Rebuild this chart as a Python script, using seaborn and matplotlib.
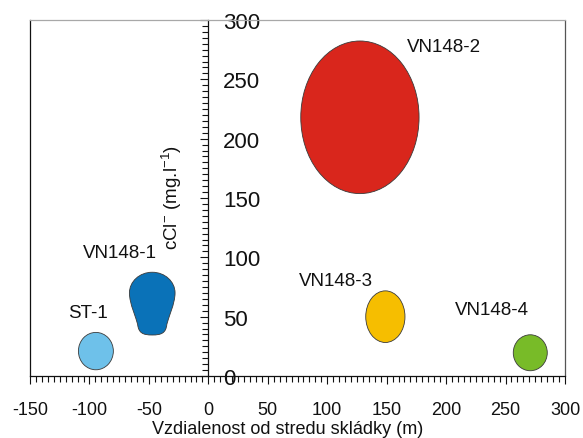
import matplotlib
matplotlib.use("Agg")
import matplotlib.pyplot as plt
from matplotlib.patches import Ellipse, PathPatch
from matplotlib.path import Path
from matplotlib.lines import Line2D
from matplotlib.ticker import MultipleLocator
import pandas as pd
import seaborn as sns

# Monitoring wells: distance from the landfill centre (m) and chloride content (mg/l)
wells = ["ST-1", "VN148-1", "VN148-2", "VN148-3", "VN148-4"]
distance = [-94.6, -47.2, 127.5, 148.9, 270.8]
chloride = [21.0, 61.0, 218.0, 50.0, 19.6]
# extent of each bubble along distance and concentration
spread_x = [29.4, 38.4, 99.5, 33.0, 28.6]
spread_y = [31.5, 52.9, 128.6, 43.5, 30.3]
shapes = ["ellipse", "drop", "ellipse", "ellipse", "ellipse"]
colors = ["#6ec1ea", "#0a72b8", "#d9261c", "#f6be00", "#78bb28"]

x_ticks = [-150, -100, -50, 0, 50, 100, 150, 200, 250, 300]
y_ticks = [0, 50, 100, 150, 200, 250, 300]

df = pd.DataFrame({"well": wells, "x": distance, "y": chloride,
                   "w": spread_x, "h": spread_y, "shape": shapes})
palette = sns.color_palette(colors)

sns.set_theme(style="ticks")
plt.rcParams["font.family"] = ["Liberation Sans", "DejaVu Sans"]
plt.rcParams["mathtext.fontset"] = "custom"
plt.rcParams["mathtext.rm"] = "Liberation Sans"
plt.rcParams["mathtext.it"] = "Liberation Sans:italic"
plt.rcParams["mathtext.bf"] = "Liberation Sans:bold"

fig = plt.figure(figsize=(5.83, 4.39), dpi=100)
ax = fig.add_axes([0.0515, 0.1412, 0.9176, 0.8110])
ax.set_facecolor("white")
ax.set_xlim(-150, 300)
ax.set_ylim(0, 300)


def drop_path(cx, cy, w, h):
    """Bulb-shaped outline: wide round top tapering to a narrow rounded base."""
    hw = w / 2
    top = cy + h / 2
    bot = cy - h / 2
    ry = top - 0.33 * h          # widest level
    ny = bot + 0.17 * h          # neck level
    verts = [
        (cx, top),
        (cx + 0.56 * hw, top), (cx + hw, top - 0.15 * h), (cx + hw, ry),
        (cx + hw, ry - 0.17 * h), (cx + 0.70 * hw, ny + 0.1 * h), (cx + 0.64 * hw, ny),
        (cx + 0.60 * hw, bot + 0.03 * h), (cx + 0.4 * hw, bot), (cx, bot),
        (cx - 0.4 * hw, bot), (cx - 0.60 * hw, bot + 0.03 * h), (cx - 0.64 * hw, ny),
        (cx - 0.70 * hw, ny + 0.1 * h), (cx - hw, ry - 0.17 * h), (cx - hw, ry),
        (cx - hw, top - 0.15 * h), (cx - 0.56 * hw, top), (cx, top),
        (cx, top),
    ]
    codes = [Path.MOVETO] + [Path.CURVE4] * 18 + [Path.CLOSEPOLY]
    return Path(verts, codes)


for (_, r), col in zip(df.iterrows(), palette):
    if r["shape"] == "drop":
        patch = PathPatch(drop_path(r["x"], r["y"], r["w"], r["h"]))
    else:
        patch = Ellipse((r["x"], r["y"]), r["w"], r["h"])
    patch.set_facecolor(col)
    patch.set_edgecolor("#3a3a3a")
    patch.set_linewidth(0.6)
    patch.set_zorder(3)
    ax.add_patch(patch)

# well names
label_pos = {"ST-1": (-101.3, 53.7), "VN148-1": (-74.5, 104.2),
             "VN148-2": (198.4, 277.6), "VN148-3": (107.0, 80.3),
             "VN148-4": (238.8, 55.9)}
for name in wells:
    lx, ly = label_pos[name]
    ax.text(lx, ly, name, ha="center", va="center", fontsize=13.5,
            color="#111111", zorder=4)

# frame: left and bottom black, top grey, concentration axis through x = 0
ax.spines["right"].set_position(("data", 0))
for s in ("left", "bottom", "right"):
    ax.spines[s].set_color("#111111")
    ax.spines[s].set_linewidth(0.9)
ax.spines["top"].set_color("#a8a8a8")
ax.spines["top"].set_linewidth(0.9)
ax.add_line(Line2D([1, 1], [0, 1], transform=ax.transAxes, color="#555555",
                   lw=0.9, clip_on=False))

ax.yaxis.tick_right()
ax.set_yticks(y_ticks)
ax.set_yticklabels([str(v) for v in y_ticks])
ax.yaxis.set_minor_locator(MultipleLocator(5))
ax.tick_params(axis="y", which="both", direction="in", right=True, left=False,
               labelright=True, labelleft=False, color="#111111", width=0.8)
ax.tick_params(axis="y", which="major", length=5.8, pad=10.5, labelsize=16,
               labelcolor="#111111")
ax.tick_params(axis="y", which="minor", length=4.0)

ax.set_xticks(x_ticks)
ax.set_xticklabels([str(v) for v in x_ticks])
ax.xaxis.set_minor_locator(MultipleLocator(5))
ax.tick_params(axis="x", which="both", direction="out", bottom=True, top=False,
               color="#111111", width=0.8)
ax.tick_params(axis="x", which="major", length=5.8, pad=12.5, labelsize=13,
               labelcolor="#111111")
ax.tick_params(axis="x", which="minor", length=4.3)

ax.set_xlabel("Vzdialenost od stredu skládky (m)", fontsize=13,
              color="#111111", labelpad=0)
ax.xaxis.set_label_coords(0.482, -0.1236)
ax.xaxis.label.set_va("top")

ax.set_ylabel(r"cCl$^{-}$ (mg.l$^{-1}$)", fontsize=13.5, color="#111111",
              va="center")
ax.yaxis.set_label_position("left")
ax.yaxis.set_label_coords(0.287, 0.503)

ax.grid(False)
fig.savefig("out.png", dpi=100, facecolor="white")
